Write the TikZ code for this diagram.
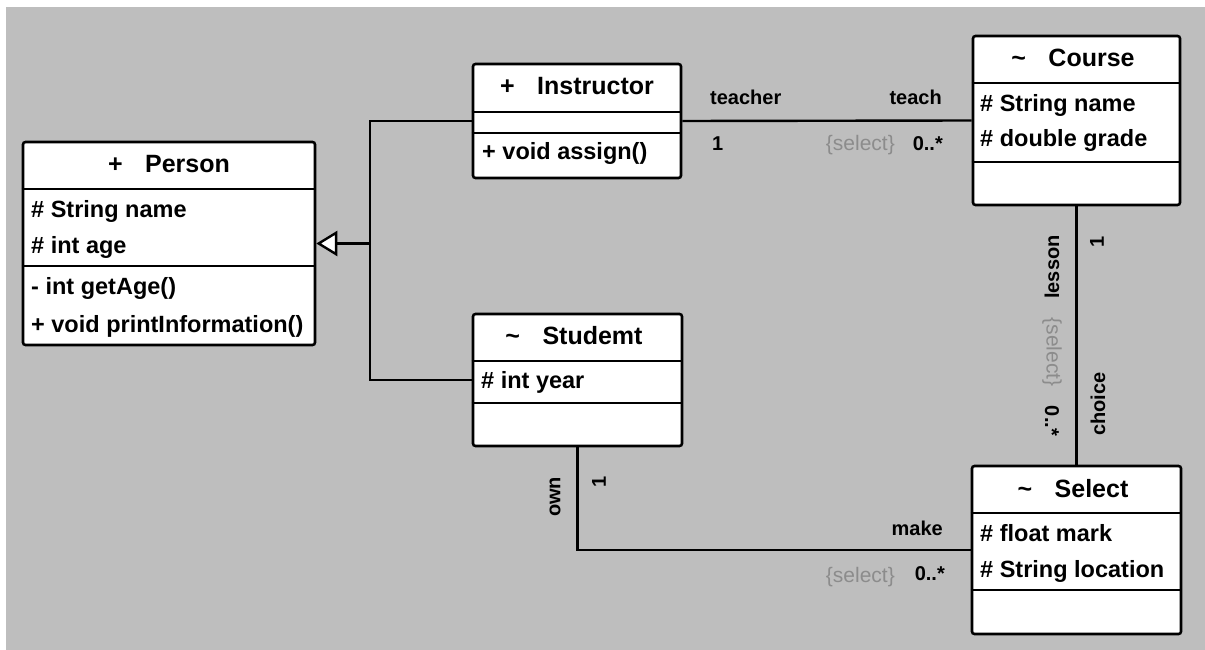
\documentclass[tikz,border=0pt]{standalone}
\usepackage{fontspec}
\setmainfont{Liberation Sans}
\usetikzlibrary{arrows.meta}

\definecolor{canvas}{RGB}{190,190,190}
\definecolor{constraintgray}{RGB}{140,140,140}

\tikzset{
  classbox/.style={draw=black, fill=white, line width=2.6pt, rounded corners=2.5pt, inner sep=0pt},
  compartment/.style={line width=2.6pt},
  classname/.style={font=\bfseries\fontsize{25}{25}\selectfont, inner sep=0pt, anchor=base},
  member/.style={font=\bfseries\fontsize{23.5}{24}\selectfont, inner sep=0pt, anchor=base west},
  role/.style={font=\bfseries\fontsize{20}{20}\selectfont, inner sep=0pt},
  constraint/.style={font=\fontsize{21}{21}\selectfont, text=constraintgray, inner sep=0pt},
  link/.style={line width=2.4pt},
  generalization/.style={link, -{Triangle[open, fill=white, length=21pt, width=25pt]}},
}

\begin{document}
\begin{tikzpicture}[x=1pt, y=-1pt]
  \useasboundingbox (0,0) rectangle (1205,650);
  \fill[white] (0,0) rectangle (1205,650);
  \fill[canvas] (6,7) rectangle (1205,650);

  % ---- Person ----
  \node[classbox, minimum width=292pt, minimum height=203pt] (person) at (169,243.5) {};
  \draw[compartment] (person.west |- 0,189) -- (person.east |- 0,189);
  \draw[compartment] (person.west |- 0,266) -- (person.east |- 0,266);
  \node[classname] (person-name) at (169,172) {+\hspace{0.9em}Person};
  \node[member] (person-a1) at (31,217) {\# String name};
  \node[member] (person-a2) at (31,253) {\# int age};
  \node[member] (person-m1) at (31,294) {- int getAge()};
  \node[member] (person-m2) at (31,332) {+ void printInformation()};

  % ---- Instructor ----
  \node[classbox, minimum width=208pt, minimum height=114pt] (instructor) at (577,121) {};
  \draw[compartment] (instructor.west |- 0,112) -- (instructor.east |- 0,112);
  \draw[compartment] (instructor.west |- 0,133) -- (instructor.east |- 0,133);
  \node[classname] (instructor-name) at (577,95) {+\hspace{0.9em}Instructor};
  \node[member] (instructor-m1) at (482,160) {+ void assign()};

  % ---- Course ----
  \node[classbox, minimum width=207pt, minimum height=169pt] (course) at (1076.5,120.5) {};
  \draw[compartment] (course.west |- 0,83) -- (course.east |- 0,83);
  \draw[compartment] (course.west |- 0,162) -- (course.east |- 0,162);
  \node[classname] (course-name) at (1073,67) {\textasciitilde\hspace{0.9em}Course};
  \node[member] (course-a1) at (980,112) {\# String name};
  \node[member] (course-a2) at (980,147) {\# double grade};

  % ---- Studemt ----
  \node[classbox, minimum width=209pt, minimum height=132pt] (studemt) at (577.5,380) {};
  \draw[compartment] (studemt.west |- 0,361) -- (studemt.east |- 0,361);
  \draw[compartment] (studemt.west |- 0,403) -- (studemt.east |- 0,403);
  \node[classname] (studemt-name) at (574,344) {\textasciitilde\hspace{0.9em}Studemt};
  \node[member] (studemt-a1) at (481,388) {\# int year};

  % ---- Select ----
  \node[classbox, minimum width=209pt, minimum height=168pt] (select) at (1076.5,550) {};
  \draw[compartment] (select.west |- 0,513) -- (select.east |- 0,513);
  \draw[compartment] (select.west |- 0,590) -- (select.east |- 0,590);
  \node[classname] (select-name) at (1073,497) {\textasciitilde\hspace{0.9em}Select};
  \node[member] (select-a1) at (980,541) {\# float mark};
  \node[member] (select-a2) at (980,577) {\# String location};

  % ---- generalization: Instructor, Studemt -> Person ----
  \coordinate (hub) at (370,243.5);
  \draw[link] (instructor.west) -| (hub) |- (studemt.west);
  \draw[generalization] (hub) -- (person.east);

  % ---- Instructor -- Course ----
  \draw[link] (instructor.east) -- (course.west);
  \node[role, anchor=base west] (teacher) at (710,105) {teacher};
  \node[role, anchor=base west] (teacher-mult) at (712,150) {1};
  \node[role, anchor=base east] (teach) at (942,105) {teach};
  \node[role, anchor=base east] (teach-mult) at (943,150) {0..*};
  \node[constraint, anchor=base east] (teach-sel) at (895,150) {\{select\}};

  % ---- Course -- Select ----
  \draw[link] (course.south) -- (select.north);
  \node[role, rotate=90] (lesson) at (1052,267) {lesson};
  \node[constraint, rotate=-90] (lesson-sel) at (1052,352) {\{select\}};
  \node[role, rotate=-90] (lesson-mult) at (1052,421) {0..*};
  \node[role, rotate=90] (choice-mult) at (1097,242) {1};
  \node[role, rotate=90] (choice) at (1098,404) {choice};

  % ---- Studemt -- Select ----
  \draw[link] (studemt.south) |- (select.west);
  \node[role, rotate=90] (own) at (555,497) {own};
  \node[role, rotate=90] (own-mult) at (599,482) {1};
  \node[role, anchor=base east] (make) at (943,535) {make};
  \node[role, anchor=base east] (make-mult) at (945,580) {0..*};
  \node[constraint, anchor=base east] (make-sel) at (895,582) {\{select\}};
\end{tikzpicture}
\end{document}
